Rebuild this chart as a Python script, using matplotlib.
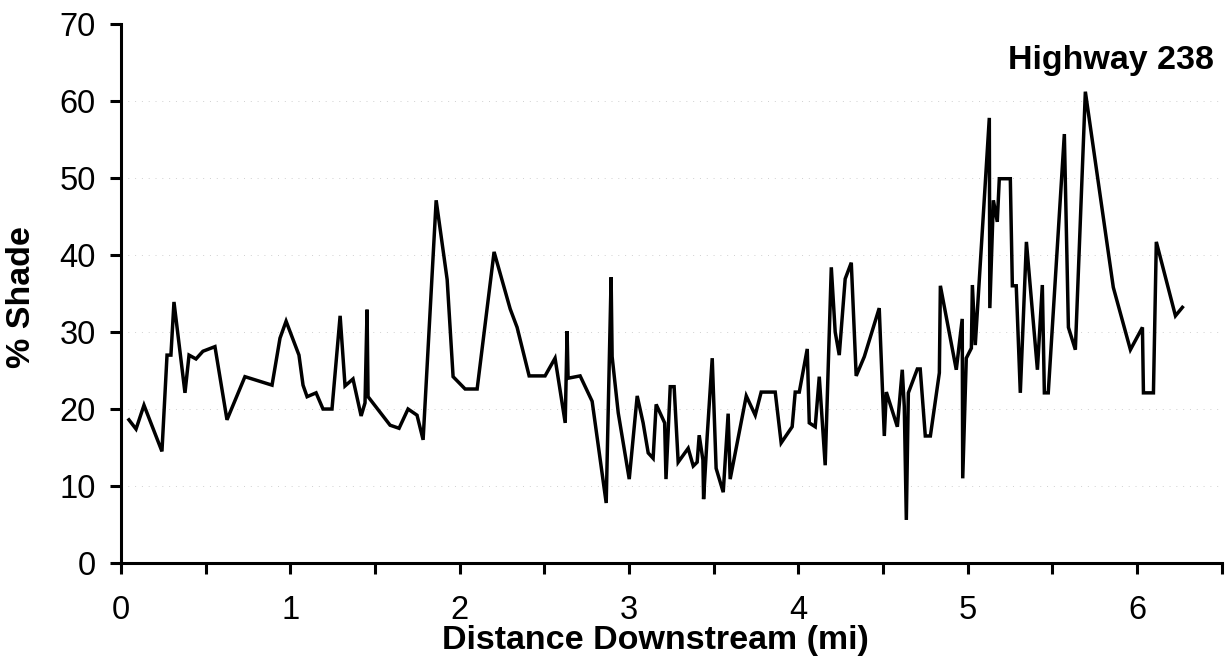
import matplotlib
matplotlib.use("Agg")
import matplotlib.pyplot as plt

distance_mi = [0.047, 0.089, 0.136, 0.242, 0.272, 0.295, 0.313, 0.378, 0.402, 0.443,
               0.484, 0.555, 0.626, 0.732, 0.892, 0.939, 0.975, 1.051, 1.075, 1.099,
               1.152, 1.193, 1.246, 1.294, 1.323, 1.370, 1.418, 1.441, 1.453, 1.459,
               1.589, 1.642, 1.695, 1.748, 1.784, 1.861, 1.926, 1.961, 2.032, 2.103,
               2.203, 2.298, 2.339, 2.410, 2.504, 2.563, 2.623, 2.634, 2.640, 2.711,
               2.782, 2.865, 2.894, 2.900, 2.936, 3.001, 3.048, 3.083, 3.113, 3.142,
               3.160, 3.210, 3.218, 3.243, 3.266, 3.290, 3.349, 3.379, 3.402, 3.414,
               3.436, 3.440, 3.461, 3.491, 3.514, 3.556, 3.585, 3.597, 3.692, 3.745,
               3.780, 3.863, 3.898, 3.963, 3.981, 4.005, 4.052, 4.064, 4.099, 4.123,
               4.158, 4.194, 4.217, 4.241, 4.276, 4.312, 4.341, 4.389, 4.477, 4.507,
               4.519, 4.584, 4.613, 4.625, 4.637, 4.649, 4.702, 4.719, 4.749, 4.779,
               4.832, 4.838, 4.932, 4.967, 4.970, 4.991, 5.021, 5.027, 5.044, 5.127,
               5.130, 5.151, 5.174, 5.186, 5.251, 5.263, 5.286, 5.310, 5.346, 5.411,
               5.440, 5.452, 5.475, 5.570, 5.594, 5.635, 5.694, 5.859, 5.960, 6.031,
               6.037, 6.096, 6.113, 6.226, 6.267]

shade_pct = [18.6, 17.4, 20.5, 14.5, 27.0, 27.0, 33.9, 22.1, 27.0, 26.5,
             27.5, 28.1, 18.6, 24.2, 23.1, 29.2, 31.4, 27.0, 23.1, 21.6,
             22.1, 20.0, 20.0, 32.1, 23.0, 23.9, 19.1, 20.8, 32.9, 21.6,
             17.9, 17.5, 20.0, 19.2, 16.0, 47.1, 36.8, 24.2, 22.6, 22.6,
             40.4, 33.0, 30.6, 24.3, 24.3, 26.6, 18.2, 30.1, 24.0, 24.3,
             21.0, 7.8, 37.1, 26.8, 19.5, 10.9, 21.7, 18.2, 14.3, 13.6,
             20.6, 18.2, 10.9, 22.9, 22.9, 13.1, 14.9, 12.6, 13.1, 16.6,
             13.4, 8.3, 16.4, 26.6, 12.3, 9.2, 19.4, 10.9, 21.7, 19.2,
             22.2, 22.2, 15.6, 17.7, 22.2, 22.2, 27.8, 18.2, 17.7, 24.2,
             12.7, 38.4, 30.0, 27.0, 36.9, 39.0, 24.3, 26.8, 33.1, 16.5,
             22.2, 17.7, 25.1, 20.3, 5.6, 22.1, 25.2, 25.2, 16.5, 16.5,
             24.7, 36.0, 25.1, 31.7, 11.0, 26.6, 27.9, 36.1, 28.3, 57.8,
             33.1, 47.1, 44.3, 49.9, 49.9, 36.0, 36.0, 22.1, 41.7, 25.1,
             36.1, 22.1, 22.1, 55.7, 30.6, 27.7, 61.2, 35.8, 27.7, 30.6,
             22.1, 22.1, 41.7, 32.1, 33.2]

y_ticks = [0, 10, 20, 30, 40, 50, 60, 70]
x_ticks = [0, 1, 2, 3, 4, 5, 6]
x_label = "Distance Downstream (mi)"
y_label = "% Shade"
annotation = "Highway 238"

plt.rcParams['font.family'] = ['Liberation Sans', 'DejaVu Sans']

fig = plt.figure(figsize=(12.28, 6.64), dpi=100)
ax = fig.add_axes([0.0985, 0.152, 0.8965, 0.812])

ax.plot(distance_mi, shade_pct, color='black', lw=2.5, solid_joinstyle='miter')

ax.set_xlim(0, 6.5)
ax.set_ylim(0, 70)
ax.set_yticks(y_ticks)
ax.set_xticks(x_ticks)
ax.set_xticks([v + 0.5 for v in x_ticks], minor=True)

for g in y_ticks[1:-1]:
    ax.axhline(g, color='#d0d0d0', lw=0.7, ls=(0, (1, 6)), zorder=0)

for s in ['top', 'right']:
    ax.spines[s].set_visible(False)
for s in ['left', 'bottom']:
    ax.spines[s].set_linewidth(2.2)

ax.tick_params(axis='both', which='both', direction='out', width=2.2, length=8,
               labelsize=23.5, colors='black')
ax.tick_params(axis='x', which='major', pad=15)
ax.tick_params(axis='y', which='major', pad=10)

fig.text(655 / 1228, 1 - 641 / 664, x_label, fontsize=24.5, fontweight='bold',
         ha='center', va='center')
fig.text(22 / 1228, 1 - 297 / 664, y_label, fontsize=24.5, fontweight='bold',
         ha='center', va='center', rotation=90)

ax.text(6.45, 65.3, annotation, fontsize=24.5, fontweight='bold', ha='right', va='center')

fig.savefig('out.png', dpi=100)
